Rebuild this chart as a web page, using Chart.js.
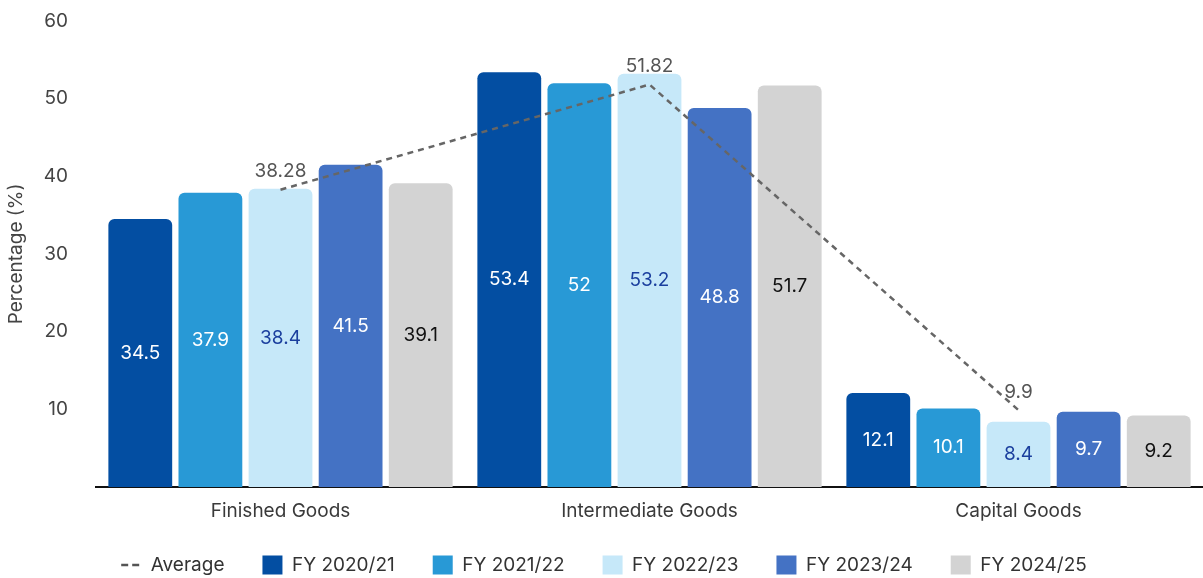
<!DOCTYPE html>
<html>
<head>
<meta charset="utf-8">
<script src="https://cdn.jsdelivr.net/npm/chart.js@4"></script>
<style>
  html, body { margin: 0; padding: 0; background: #ffffff; }
  #wrap { width: 1203px; height: 578px; position: relative; }
</style>
</head>
<body>
<div id="wrap"><canvas id="chart"></canvas></div>
<script>
const categories = ['Finished Goods', 'Intermediate Goods', 'Capital Goods'];
const seriesNames = ['FY 2020/21', 'FY 2021/22', 'FY 2022/23', 'FY 2023/24', 'FY 2024/25'];
const fy2020 = [34.5, 53.4, 12.1];
const fy2021 = [37.9, 52, 10.1];
const fy2022 = [38.4, 53.2, 8.4];
const fy2023 = [41.5, 48.8, 9.7];
const fy2024 = [39.1, 51.7, 9.2];
const average = [38.28, 51.82, 9.9];
const yTicks = [10, 20, 30, 40, 50, 60];

const barColors = ['#034ea2', '#2899d6', '#c6e8f9', '#4472c4', '#d3d3d3'];
const labelColors = ['#ffffff', '#ffffff', '#1b3f9e', '#ffffff', '#111111'];
const FONT = 'Inter, "Noto Sans", sans-serif';
const FS = 19;

const barSeries = [fy2020, fy2021, fy2022, fy2023, fy2024];

const datasets = [{
  type: 'line',
  label: 'Average',
  data: average,
  borderColor: '#666666',
  backgroundColor: '#666666',
  borderWidth: 2.5,
  borderDash: [6, 5],
  pointRadius: 0,
  fill: false,
  tension: 0,
  order: 0
}].concat(barSeries.map((vals, i) => ({
  type: 'bar',
  label: seriesNames[i],
  data: vals,
  backgroundColor: barColors[i],
  borderRadius: { topLeft: 6, topRight: 6 },
  borderSkipped: 'bottom',
  categoryPercentage: 0.95,
  barPercentage: 0.91,
  order: 1
})));

// Writes each value on its mark: centred inside bars, above the average line points.
const valueLabels = {
  id: 'valueLabels',
  afterDatasetsDraw(chart) {
    const ctx = chart.ctx;
    ctx.save();
    ctx.font = FS + 'px ' + FONT;
    ctx.textAlign = 'center';
    ctx.textBaseline = 'middle';
    chart.data.datasets.forEach((ds, di) => {
      const meta = chart.getDatasetMeta(di);
      meta.data.forEach((el, j) => {
        const v = ds.data[j];
        if (ds.type === 'bar') {
          const p = el.getProps(['x', 'y', 'base'], true);
          ctx.fillStyle = labelColors[di - 1];
          ctx.fillText(String(v), p.x, (p.y + p.base) / 2);
        } else {
          const p = el.getProps(['x', 'y'], true);
          ctx.fillStyle = '#555555';
          ctx.fillText(String(v), p.x, p.y - 18);
        }
      });
    });
    ctx.restore();
  }
};

// Pulls the legend row a little closer to the axis labels.
const legendNudge = {
  id: 'legendNudge',
  afterLayout(chart) {
    if (chart.legend) {
      chart.legend.top -= 3.5;
      chart.legend.bottom -= 3.5;
    }
  }
};

new Chart(document.getElementById('chart'), {
  data: { labels: categories, datasets },
  options: {
    responsive: true,
    maintainAspectRatio: false,
    animation: false,
    layout: { padding: { top: 21, right: 0, left: 5, bottom: -10 } },
    scales: {
      x: {
        grid: { display: false },
        border: { display: true, color: '#111111', width: 2 },
        ticks: { color: '#3a3a3a', font: { family: FONT, size: FS }, padding: 5 },
        afterFit(axis) { axis.height = 34; }
      },
      y: {
        min: 0,
        max: 60,
        afterBuildTicks(axis) { axis.ticks = yTicks.map(v => ({ value: v })); },
        afterFit(axis) { axis.width = 91; },
        grid: { display: false, tickLength: 28 },
        border: { display: false },
        ticks: { color: '#444444', font: { family: FONT, size: FS }, padding: 0 },
        title: { display: true, text: 'Percentage (%)', color: '#444444', font: { family: FONT, size: FS }, padding: 0 }
      }
    },
    plugins: {
      tooltip: { enabled: false },
      legend: {
        position: 'bottom',
        labels: {
          color: '#333333',
          font: { family: FONT, size: FS },
          usePointStyle: true,
          pointStyleWidth: 20,
          boxHeight: FS,
          padding: 38,
          generateLabels(chart) {
            return chart.data.datasets.map((ds, i) => ({
              text: ds.label,
              datasetIndex: i,
              fillStyle: ds.type === 'bar' ? ds.backgroundColor : 'rgba(0,0,0,0)',
              strokeStyle: ds.type === 'bar' ? ds.backgroundColor : '#555555',
              lineWidth: ds.type === 'bar' ? 0 : 2.5,
              lineDash: ds.type === 'bar' ? [] : [7, 4],
              pointStyle: ds.type === 'bar' ? 'rect' : 'line',
              fontColor: '#333333',
              hidden: false
            }));
          }
        }
      }
    }
  },
  plugins: [valueLabels, legendNudge]
});
</script>
</body>
</html>
